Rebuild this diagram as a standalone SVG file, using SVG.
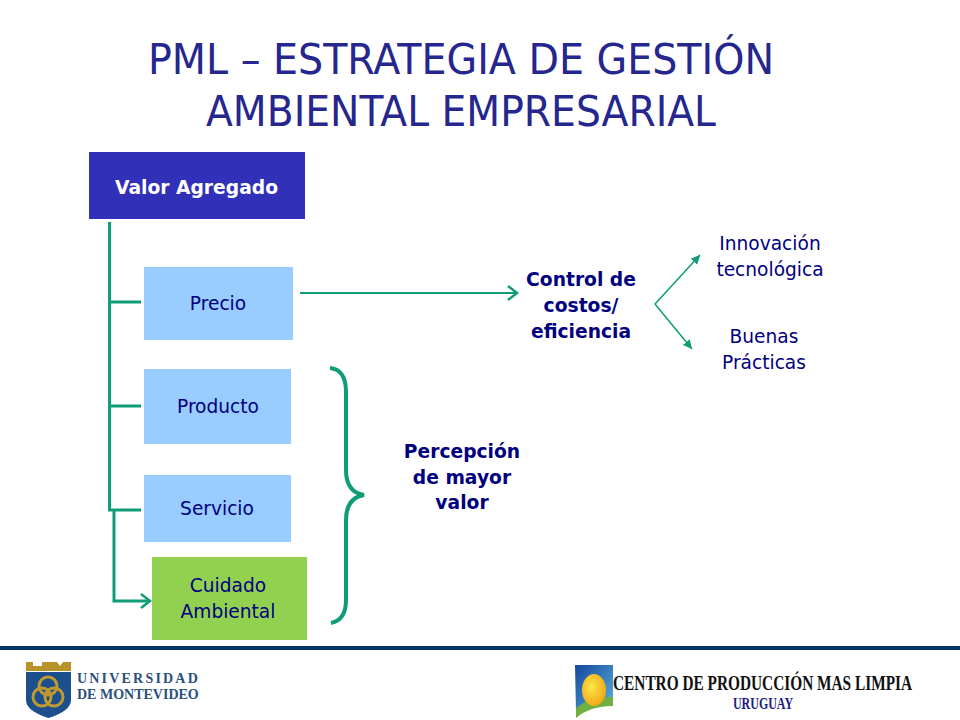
<svg xmlns="http://www.w3.org/2000/svg" width="960" height="720" viewBox="0 0 960 720">
<style>
.t{font-family:"DejaVu Sans",Verdana,sans-serif;font-size:42.5px;fill:#26268f;text-anchor:start}
.l{font-family:"DejaVu Sans",Verdana,sans-serif;font-size:18.6px;fill:#000080;text-anchor:middle}
.b{font-family:"DejaVu Sans",Verdana,sans-serif;font-size:18.7px;font-weight:bold;fill:#000080;text-anchor:middle}
.c{fill:none;stroke:#0f9d78;stroke-width:3}
.n{fill:none;stroke:#0f9d78;stroke-width:1.5}
.blue{fill:#99ccff}
.ser{font-family:"Liberation Serif","Times New Roman",serif;font-weight:bold}
</style>
<defs>
<marker id="o" markerUnits="userSpaceOnUse" markerWidth="14" markerHeight="16" refX="12" refY="8" orient="auto"><path d="M3 1L12 8L3 15" fill="none" stroke="#0f9d78" stroke-width="2.5"/></marker>
<marker id="f" markerUnits="userSpaceOnUse" markerWidth="10" markerHeight="10" refX="9" refY="5" orient="auto"><path d="M0 0.5L9 5L0 9.5Z" fill="#0f9d78"/></marker>
<linearGradient id="sky" x1="0" y1="0" x2="1" y2="1"><stop offset="0" stop-color="#14479c"/><stop offset="1" stop-color="#5cb4e0"/></linearGradient>
<radialGradient id="sun" cx=".4" cy=".4" r=".7"><stop offset="0" stop-color="#fbe64a"/><stop offset="1" stop-color="#f0a010"/></radialGradient>
</defs>
<rect width="960" height="720" fill="#fff"/>
<g id="title"><text class="t" x="148" y="74" textLength="626" lengthAdjust="spacingAndGlyphs">PML – ESTRATEGIA DE GESTIÓN</text><text class="t" x="206" y="126" textLength="510" lengthAdjust="spacingAndGlyphs">AMBIENTAL EMPRESARIAL</text></g>
<g id="connectors">
<path class="c" d="M109.500 222V510H141M109.500 302H141M109.500 406H141"/>
<path class="c" d="M114 510V601H150" marker-end="url(#o)"/>
<path class="n" style="stroke-width:2" d="M300 293H517" marker-end="url(#o)"/>
<path class="n" d="M655 304L700 255" marker-end="url(#f)"/>
<path class="n" d="M655 304L692 349" marker-end="url(#f)"/>
<path d="M330 368C341 369 346 378 346 392V470C346 485 352 493 364 495C352 497 346 505 346 520V600C346 614 341 621 331 623" fill="none" stroke="#0f9d78" stroke-width="4"/>
</g>
<g id="valor"><rect x="89" y="152" width="216" height="67" fill="#3030b8"/><text class="b" style="fill:#fff" x="196.500" y="194">Valor Agregado</text></g>
<g id="precio"><rect class="blue" x="144" y="267" width="149" height="73"/><text class="l" x="218" y="310">Precio</text></g>
<g id="producto"><rect class="blue" x="144" y="369" width="147" height="75"/><text class="l" x="218" y="413">Producto</text></g>
<g id="servicio"><rect class="blue" x="144" y="475" width="147" height="67"/><text class="l" x="217" y="515">Servicio</text></g>
<g id="cuidado"><rect x="152" y="557" width="155" height="83" fill="#92d050"/><text class="l" x="228" y="592">Cuidado</text><text class="l" x="228" y="618">Ambiental</text></g>
<g id="control"><text class="b" x="581" y="286">Control de</text><text class="b" x="581" y="312">costos/</text><text class="b" x="581" y="338">eficiencia</text></g>
<g id="percepcion"><text class="b" x="462" y="458">Percepción</text><text class="b" x="462" y="484">de mayor</text><text class="b" x="462" y="509">valor</text></g>
<g id="innovacion"><text class="l" x="770" y="250">Innovación</text><text class="l" x="770" y="276">tecnológica</text></g>
<g id="buenas"><text class="l" x="764" y="343">Buenas</text><text class="l" x="764" y="369">Prácticas</text></g>
<rect x="0" y="646" width="960" height="4" fill="#003366"/>
<g id="logo-um">
<path d="M26 662H33V666H42V662H50V671H26Z" fill="#b8932a"/>
<path d="M50 662H57L60 666L63 662H71V671H50Z" fill="#b8932a"/>
<path d="M26 672H71V700Q71 711 48.500 718Q26 711 26 700Z" fill="#1c4f8c"/>
<g fill="none" stroke="#c09a30" stroke-width="3"><circle cx="48" cy="686" r="9"/><circle cx="42" cy="697" r="9"/><circle cx="54" cy="697" r="9"/></g>
<text class="ser" x="77" y="683" font-size="14" fill="#2a4f7c" letter-spacing="2.2">UNIVERSIDAD</text>
<text class="ser" x="77" y="699" font-size="14" fill="#2a4f7c">DE MONTEVIDEO</text>
</g>
<g id="logo-cpml">
<path d="M575 665H613V700Q590 700 576 712Z" fill="url(#sky)"/>
<path d="M576 718Q590 706 613 706V697Q590 696 576 708Z" fill="#6fb040"/>
<ellipse cx="594" cy="690" rx="12" ry="16" fill="url(#sun)"/>
<text class="ser" transform="translate(613 690) scale(.731 1)" font-size="21" fill="#111">CENTRO DE PRODUCCIÓN MAS LIMPIA</text>
<text class="ser" transform="translate(763 709) scale(.75 1)" font-size="16" fill="#1c1c80" text-anchor="middle">URUGUAY</text>
</g>
</svg>
